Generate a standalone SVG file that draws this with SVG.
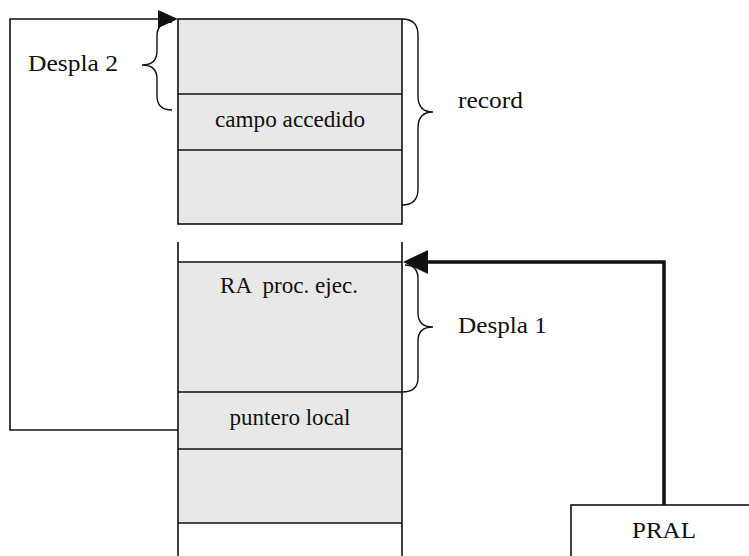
<svg xmlns="http://www.w3.org/2000/svg" width="749" height="556" viewBox="0 0 749 556">
<style>
.t{font-family:"Liberation Serif","Times New Roman",serif;font-size:24px;fill:#111;white-space:pre}
.m{text-anchor:middle}
.ln{fill:none;stroke:#111;stroke-width:1.6}
.cell{fill:#e8e8e8;stroke:#111;stroke-width:1.6}
.br{fill:none;stroke:#111;stroke-width:1.4}
</style>
<g id="record">
<rect class="cell" x="178" y="19" width="224" height="205"/>
<line class="ln" x1="178" y1="94" x2="402" y2="94"/>
<line class="ln" x1="178" y1="150" x2="402" y2="150"/>
<text class="t m" x="290" y="127" textLength="150" lengthAdjust="spacingAndGlyphs">campo accedido</text>
</g>
<g id="stack">
<rect x="178" y="262" width="224" height="261" fill="#e8e8e8"/>
<line class="ln" x1="178" y1="242" x2="178" y2="556"/>
<line class="ln" x1="402" y1="242" x2="402" y2="556"/>
<line class="ln" x1="178" y1="262" x2="402" y2="262"/>
<line class="ln" x1="178" y1="392" x2="402" y2="392"/>
<line class="ln" x1="178" y1="449" x2="402" y2="449"/>
<line class="ln" x1="178" y1="523" x2="402" y2="523"/>
<text class="t m" x="289" y="293" textLength="138" lengthAdjust="spacingAndGlyphs">RA  proc. ejec.</text>
<text class="t m" x="290" y="425" textLength="121" lengthAdjust="spacingAndGlyphs">puntero local</text>
</g>
<g id="pral">
<rect class="ln" x="571" y="505" width="200" height="70"/>
<text class="t m" x="664" y="538" textLength="64" lengthAdjust="spacingAndGlyphs">PRAL</text>
</g>
<g id="braces">
<path class="br" d="M172,22 Q157,22 157,36 L157,51 Q157,65 142,65 Q157,65 157,79 L157,96 Q157,110 172,110"/>
<text class="t" x="28" y="71" textLength="90" lengthAdjust="spacingAndGlyphs">Despla 2</text>
<path class="br" d="M402,19 Q418,19 418,35 L418,96 Q418,112 433,112 Q418,112 418,128 L418,189 Q418,205 402,205"/>
<text class="t" x="458" y="108" textLength="65" lengthAdjust="spacingAndGlyphs">record</text>
<path class="br" d="M405,265 Q418,265 418,279 L418,313 Q418,327 433,327 Q418,327 418,341 L418,378 Q418,392 402,392"/>
<text class="t" x="458" y="333" textLength="89" lengthAdjust="spacingAndGlyphs">Despla 1</text>
</g>
<g id="connectors">
<polyline class="ln" points="178,430 10,430 10,19 160,19"/>
<polygon points="178,19 158,10 158,28" fill="#111"/>
<polyline points="664,505 664,262 426,262" fill="none" stroke="#111" stroke-width="3.5"/>
<polygon points="403,262 428,250 428,274" fill="#111"/>
</g>
</svg>
